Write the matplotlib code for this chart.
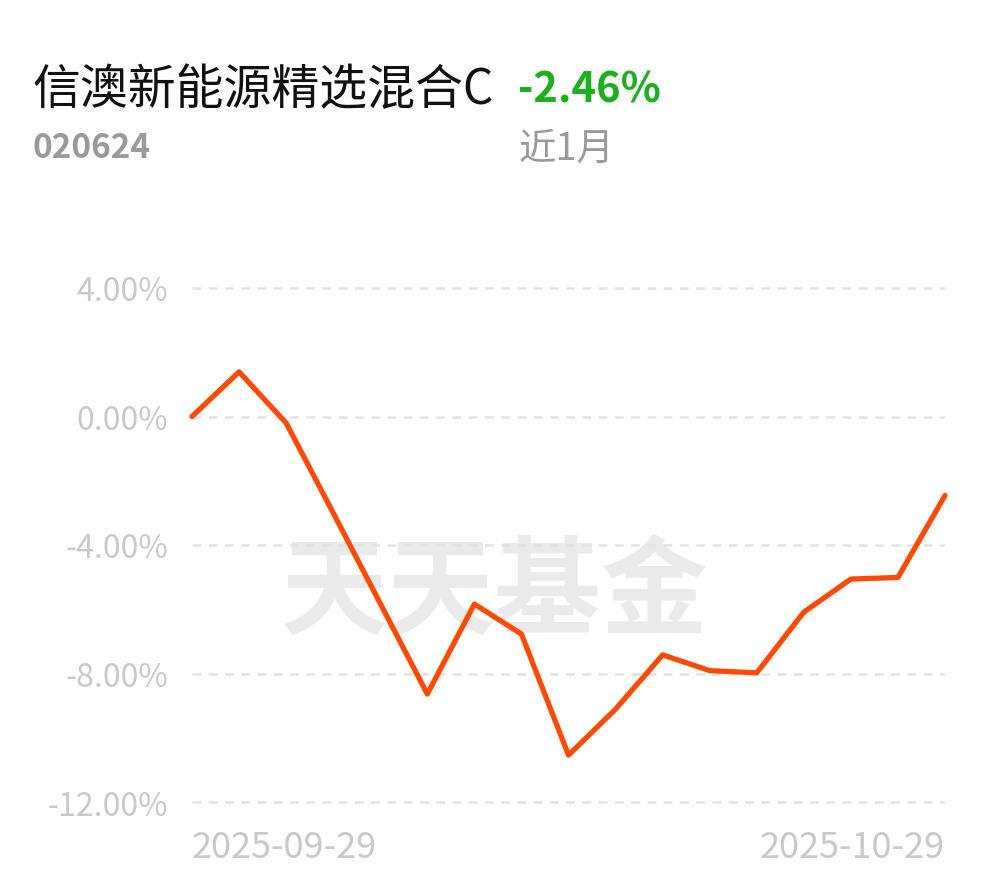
import matplotlib
matplotlib.use("Agg")
import matplotlib.pyplot as plt

plt.rcParams['font.family'] = ['Noto Sans CJK SC', 'DejaVu Sans']

# ---- data ----
title = "信澳新能源精选混合C"
code = "020624"
change_text = "-2.46%"
period_text = "近1月"
watermark = "天天基金"
returns = [0.00, 1.39, -0.20, -3.00, -5.82, -8.64, -5.84, -6.77, -10.54,
           -9.11, -7.42, -7.91, -7.98, -6.09, -5.06, -5.01, -2.46]
yticks = [4, 0, -4, -8, -12]
ytick_labels = ["4.00%", "0.00%", "-4.00%", "-8.00%", "-12.00%"]
xtick_labels = ["2025-09-29", "2025-10-29"]

W, H = 990, 878
fig = plt.figure(figsize=(W / 100, H / 100), dpi=100)
fig.patch.set_facecolor('white')

# axes placement in pixels
x0, x1 = 192, 945
ppu = (803 - 289) / 16.0
ylo, yhi = -12.5, 4.5
ytop = 289 - (yhi - 4) * ppu
ybot = 803 + (-12 - ylo) * ppu
ax = fig.add_axes([x0 / W, 1 - ybot / H, (x1 - x0) / W, (ybot - ytop) / H])
ax.set_xlim(0, len(returns) - 1)
ax.set_ylim(ylo, yhi)
for s in ax.spines.values():
    s.set_visible(False)

for yv in yticks:
    ax.axhline(yv, color='#e3e3e3', lw=1.8, ls=(0, (3.5, 3)), zorder=1)

ax.set_yticks(yticks)
ax.set_yticklabels(ytick_labels, fontsize=23, color='#c9c9c9')
ax.tick_params(axis='y', length=0, pad=17)

ax.set_xticks([0, len(returns) - 1])
ax.set_xticklabels(xtick_labels, fontsize=26, color='#c9c9c9')
xl = ax.get_xticklabels()
xl[0].set_horizontalalignment('left')
xl[1].set_horizontalalignment('right')
ax.tick_params(axis='x', length=0, pad=8)

ax.text(495 / W, 1 - 594 / H, watermark, transform=fig.transFigure,
        ha='center', va='center', fontsize=77, fontweight='bold',
        color='#eaeaea', zorder=0, clip_on=False)

ax.plot(range(len(returns)), returns, color='#ff4a06', lw=3.8,
        solid_joinstyle='round', solid_capstyle='round', clip_on=False, zorder=3)

fig.text(32 / W, 1 - 104 / H, title, fontsize=34.5, color='#111111',
         ha='left', va='baseline')
fig.text(518 / W, 1 - 103 / H, change_text, fontsize=30, color='#1db01e',
         fontweight='bold', ha='left', va='baseline')
fig.text(32 / W, 1 - 158 / H, code, fontsize=24, color='#9a9a9a',
         fontweight='bold', ha='left', va='baseline')
fig.text(518 / W, 1 - 160 / H, period_text, fontsize=27, color='#9a9a9a',
         ha='left', va='baseline')

fig.savefig("out.png", dpi=100, facecolor='white')
